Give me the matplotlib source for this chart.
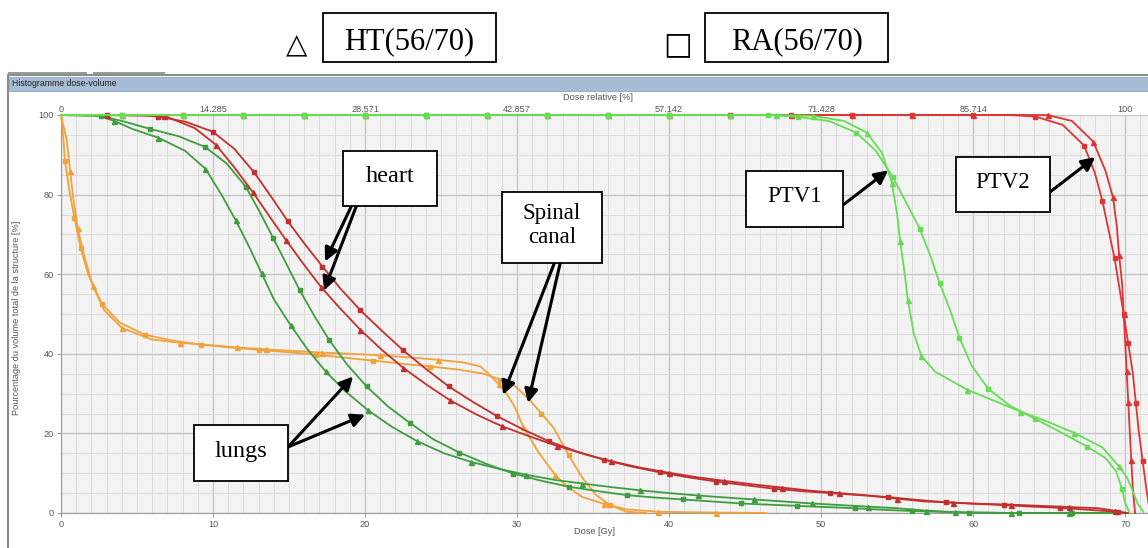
import matplotlib.pyplot as plt
from matplotlib.patches import Rectangle

W, H = 1148, 548

heart_ht_x = [0, 3, 6.8, 8.8, 10.2, 11.45, 12.6, 13.7, 14.8, 15.94, 17.1, 18.36, 19.7, 21.1, 22.5,
              24.06, 25.6, 27.35, 29, 30.86, 32.6, 34.4, 36.2, 38.1, 40, 41.8, 43.6, 45.5, 47.4,
              49.3, 51.2, 53.1, 55, 56.8, 58.7, 60.6, 62.5, 64.4, 66.3, 68.2, 69.3, 70.0]
heart_ht_y = [100, 100, 99.8, 96.7, 92.5, 86.6, 80.7, 74.6, 68.6, 62.6, 56.8, 51.4, 46, 41, 36.5,
              32.2, 28.3, 24.7, 21.8, 19.2, 16.9, 14.8, 13, 11.4, 10.1, 9, 8.1, 7.2, 6.4,
              5.6, 5, 4.4, 3.6, 2.9, 2.6, 2.3, 2.1, 1.8, 1.5, 1.2, 0.6, 0]
heart_ra_x = [0, 3, 5.5, 6.4, 8.2, 9.98, 11.4, 12.7, 13.8, 14.9, 16.05, 17.2, 18.4, 19.7, 21.1,
              22.5, 24, 25.5, 27.1, 28.7, 30.4, 32.1, 33.9, 35.7, 37.5, 39.4, 41.2, 43.1, 45,
              46.9, 48.7, 50.6, 52.5, 54.4, 56.3, 58.2, 60.1, 62, 63.9, 65.7, 67.6, 69.5, 70.2]
heart_ra_y = [100, 100, 99.9, 99.6, 98.3, 95.8, 91.5, 85.6, 79.6, 73.4, 67.5, 61.9, 56.3, 50.9, 45.8,
              40.9, 36.2, 31.8, 27.9, 24.3, 21, 18, 15.5, 13.4, 11.7, 10.2, 9, 7.9, 7,
              6.1, 5.5, 5, 4.5, 4, 3.3, 2.7, 2.3, 2, 1.6, 1.3, 0.8, 0.3, 0]

lungs_ht_x = [0, 2.5, 3.5, 4.69, 6.4, 8.16, 9.5, 10.57, 11.5, 12.4, 13.2, 14.0, 15.1, 16.2, 17.4,
              18.7, 20.2, 21.75, 23.4, 25.2, 27, 28.8, 30.6, 32.5, 34.3, 36.2, 38.1, 40, 41.9,
              43.7, 45.6, 47.5, 49.4, 51.2, 53.1, 55, 56.9, 58.8, 62.5, 66.3, 70]
lungs_ht_y = [100, 99.8, 98.5, 96.5, 94.3, 91, 86.5, 79.9, 73.5, 66.7, 60.2, 53.7, 47.2, 41.2, 35.6,
              30.6, 25.8, 21.7, 18.1, 15, 12.8, 11.1, 9.6, 8.3, 7.4, 6.5, 5.7, 5, 4.4,
              3.9, 3.4, 2.9, 2.4, 2, 1.6, 1.2, 0.6, 0.2, 0, 0, 0]
lungs_ra_x = [0, 2.6, 4.2, 5.86, 7.7, 9.47, 10.9, 12.15, 13.05, 13.97, 14.85, 15.7, 16.65, 17.65,
              18.8, 20.1, 21.5, 22.96, 24.5, 26.2, 28, 29.76, 31.6, 33.4, 35.3, 37.2, 39, 40.9,
              42.8, 44.7, 46.5, 48.4, 50.3, 52.2, 54.1, 56, 57.9, 59.7, 63, 66.5, 70]
lungs_ra_y = [100, 99.8, 98.3, 96.5, 94.7, 92, 87.8, 82, 75.8, 69, 62.4, 56, 49.6, 43.4,
              37.4, 31.8, 26.8, 22.6, 18.5, 15.2, 12.3, 9.9, 8.1, 6.6, 5.5, 4.5, 3.9, 3.4,
              2.9, 2.4, 2.1, 1.8, 1.5, 1.2, 0.8, 0.5, 0.3, 0.1, 0, 0, 0]

spinal_ht_x = [0, 0.15, 0.38, 0.6, 0.81, 1.1, 1.53, 2.1, 2.85, 4, 5.96, 7.8, 9.7, 11.6, 13.5, 15.4,
               17.2, 19.1, 21, 22.9, 24.8, 26.5, 27.6, 28.3, 28.8, 29.3, 29.8, 30.4, 31.4, 32.5,
               33.3, 34.3, 35.7, 37.2, 39.3, 43.1, 46.4]
spinal_ht_y = [100, 97.5, 93.7, 86, 79, 71.5, 64.6, 57, 50.9, 46.5, 43.6, 42.8, 42.2, 41.6, 41.1, 40.7,
               40.3, 40, 39.6, 39.1, 38.5, 37.8, 36.8, 34.3, 32.3, 30, 27, 21.7, 15.3, 9.6,
               6.6, 4, 2.3, 0.9, 0.3, 0.1, 0]
spinal_ra_x = [0, 0.12, 0.26, 0.55, 0.88, 1.3, 1.8, 2.7, 3.84, 5.5, 7.37, 9.2, 11.1, 13, 14.9, 16.8,
               18.7, 20.5, 22.4, 24.3, 26.2, 27.8, 28.9, 29.9, 30.8, 31.6, 32.4, 33.4, 34.3, 35.2,
               36.1, 37.2, 38.5]
spinal_ra_y = [100, 96, 88.5, 81, 74.2, 66.5, 59.8, 52.5, 47.9, 44.8, 43.3, 42.3, 41.6, 41, 40.4, 39.8,
               39, 38.3, 37.5, 36.8, 36, 35, 33.5, 31.8, 28.5, 25, 21.4, 14.5, 8.8, 4.5,
               2, 0.3, 0]

ptv1_ht_x = [0, 4, 8, 12, 16, 20, 24, 28, 32, 36, 40, 44, 47, 49.45, 51.5, 53, 54, 54.65, 55.0,
             55.2, 55.5, 55.7, 56.1, 56.6, 57.5, 59.6, 61.5, 63.1, 65, 66.6, 68.5, 69.6, 70.1,
             70.4, 70.8, 71.2]
ptv1_ht_y = [100, 100, 100, 100, 100, 100, 100, 100, 100, 100, 100, 100, 100, 99.8, 98.5, 95.6, 90.5,
             83, 75, 68.3, 60, 53.6, 45, 39.4, 35.5, 31, 28, 25.5, 22.8, 20.2, 16.5, 11.7, 9,
             6.5, 2.5, 0.3]
ptv1_ra_x = [0, 4, 8, 12, 16, 20, 24, 28, 32, 36, 40, 44, 46.5, 48.5, 50.5, 52.3, 53.6, 54.7, 55.6,
             56.5, 57.2, 57.8, 58.5, 59.1, 59.9, 61, 62.4, 64.1, 65.8, 67.5, 68.7, 69.4, 69.8,
             70.0, 70.3]
ptv1_ra_y = [100, 100, 100, 100, 100, 100, 100, 100, 100, 100, 100, 100, 100, 99.5, 98.5, 95.6, 91,
             84.5, 78, 71.3, 64.5, 57.7, 50.8, 44, 37, 31.2, 27, 23.6, 20.2, 16.7, 13.8, 10.5, 6,
             2.5, 0]

ptv2_ht_x = [0, 4, 8, 12, 16, 20, 24, 28, 32, 36, 40, 44, 48, 52, 56, 60, 63, 64.9, 66.5, 67.9,
             68.7, 69.2, 69.45, 69.6, 69.8, 69.9, 70.0, 70.1, 70.2, 70.3, 70.4, 70.5, 70.65]
ptv2_ht_y = [100, 100, 100, 100, 100, 100, 100, 100, 100, 100, 100, 100, 100, 100, 100, 100, 100,
             100, 98.5, 93.3, 86, 79.3, 72, 64.8, 57.5, 50, 42.8, 35.6, 28, 20.5, 13.3, 6.2, 0]
ptv2_ra_x = [0, 4, 8, 12, 16, 20, 24, 28, 32, 36, 40, 44, 48, 52, 56, 60, 62.5, 64.1, 65.9, 67.3,
             68.0, 68.5, 68.9, 69.3, 69.6, 69.9, 70.2, 70.5, 70.7, 70.9, 71.15, 71.4, 71.6, 71.8]
ptv2_ra_y = [100, 100, 100, 100, 100, 100, 100, 100, 100, 100, 100, 100, 100, 100, 100, 100, 100,
             99.6, 97.5, 92.3, 85.5, 78.4, 71.2, 64, 57, 50, 42.6, 35.2, 27.7, 20.3, 13, 5.8, 1, 0]

top_ticks = [0, 10, 20, 30, 40, 50, 60, 70]
top_labels = ['0', '14.285', '28.571', '42.857', '57.142', '71.428', '85.714', '100']

# structure -> colour, curves (HT, RA)
series = [
    ('#f2a23a', spinal_ht_x, spinal_ht_y, spinal_ra_x, spinal_ra_y),
    ('#3e9e3e', lungs_ht_x, lungs_ht_y, lungs_ra_x, lungs_ra_y),
    ('#c2302e', heart_ht_x, heart_ht_y, heart_ra_x, heart_ra_y),
    ('#e03434', ptv2_ht_x, ptv2_ht_y, ptv2_ra_x, ptv2_ra_y),
    ('#66dd55', ptv1_ht_x, ptv1_ht_y, ptv1_ra_x, ptv1_ra_y),
]


def fx(px):
    return px / W


def fy(py):
    return 1 - py / H


fig = plt.figure(figsize=(W / 100, H / 100), dpi=100)
fig.patch.set_facecolor('white')

# window frame of the TPS screenshot
fig.patches.append(Rectangle((fx(8), -0.01), 1.0, fy(75) + 0.01, transform=fig.transFigure,
                             fill=False, edgecolor='#8c8c8c', lw=1.5, zorder=0))
fig.patches.append(Rectangle((fx(9), fy(91)), 1.0, fy(77) - fy(91), transform=fig.transFigure,
                             facecolor='#a7bdd6', edgecolor='#8ea6c2', lw=0.6, zorder=0))
for x0, x1 in [(8, 87), (93, 165)]:
    fig.patches.append(Rectangle((fx(x0), fy(74)), fx(x1) - fx(x0), fy(72) - fy(74),
                                 transform=fig.transFigure, facecolor='#9a9a9a', lw=0, zorder=0))
fig.text(fx(12), fy(84), 'Histogramme dose-volume', fontsize=6.3, family='Liberation Sans',
         color='#222222', va='center')

ax = fig.add_axes([fx(61), fy(513), fx(1148) - fx(61), (513 - 115) / H])
ax.set_facecolor('#f3f3f3')
ax.set_xlim(0, 71.5)
ax.set_ylim(0, 100)
ax.set_xticks(range(0, 71, 10))
ax.set_xticks(range(0, 72), minor=True)
ax.set_yticks(range(0, 101, 20))
ax.set_yticks(range(0, 101, 5), minor=True)
ax.grid(which='major', color='#c6c6c6', lw=1.0)
ax.grid(which='minor', color='#dcdcdc', lw=0.7)
ax.set_axisbelow(True)
for s in ['top', 'right']:
    ax.spines[s].set_visible(False)
for s in ['left', 'bottom']:
    ax.spines[s].set_color('#9a9a9a')
ax.tick_params(which='minor', length=0)
ax.tick_params(which='major', length=3, color='#9a9a9a', labelsize=6.6, labelcolor='#555555', pad=2)
for lab in ax.get_xticklabels() + ax.get_yticklabels():
    lab.set_family('Liberation Sans')

sec = ax.secondary_xaxis('top')
sec.set_xticks(top_ticks, labels=top_labels)
sec.tick_params(length=0, labelsize=6.6, labelcolor='#555555', pad=1)
sec.spines['top'].set_visible(False)
for lab in sec.get_xticklabels():
    lab.set_family('Liberation Sans')

fig.text(fx(598), fy(97), 'Dose relative [%]', fontsize=6.6, family='Liberation Sans',
         color='#555555', ha='center', va='center')
fig.text(fx(595), fy(531), 'Dose [Gy]', fontsize=6.6, family='Liberation Sans',
         color='#555555', ha='center', va='center')
fig.text(fx(17), fy(318), 'Pourcentage du volume total de la structure [%]', fontsize=6.6,
         family='Liberation Sans', color='#555555', ha='center', va='center', rotation=90)

for i, (col, hx, hy, rx, ry) in enumerate(series):
    ax.plot(rx, ry, color=col, lw=1.3, marker='s', ms=2.7, markevery=(0.03 + 0.007 * i, 0.049),
            zorder=3 + i, clip_on=False)
    ax.plot(hx, hy, color=col, lw=1.3, marker='^', ms=3.6, markevery=(0.04 + 0.007 * i, 0.049),
            zorder=3 + i, clip_on=False)

# label boxes (pixel rectangles of the screenshot), text centre offset in px
serif = 'Liberation Serif'
boxes = [
    ((343, 151, 437, 206), 'heart', 17.5, -2),
    ((502, 192, 602, 263), 'Spinal\ncanal', 16.5, -2),
    ((194, 425, 288, 481), 'lungs', 17.5, -2),
    ((746, 171, 843, 227), 'PTV1', 16.5, -2),
    ((956, 157, 1050, 212), 'PTV2', 16.5, -2),
    ((323, 13, 496, 62), 'HT(56/70)', 22, 4),
    ((705, 13, 888, 62), 'RA(56/70)', 22, 4),
]
for (x0, y0, x1, y1), txt, size, dy in boxes:
    fig.patches.append(Rectangle((fx(x0), fy(y1)), fx(x1) - fx(x0), fy(y0) - fy(y1),
                                 transform=fig.transFigure, facecolor='white',
                                 edgecolor='black', lw=1.3, zorder=5))
    fig.text(fx((x0 + x1) / 2), fy((y0 + y1) / 2 + dy), txt, fontsize=size, family=serif,
             ha='center', va='center', linespacing=1.2, zorder=6)

fig.text(fx(297), fy(45), '\u25b3', fontsize=20, family='DejaVu Sans', ha='center', va='center')
fig.text(fx(678), fy(45), '\u25a1', fontsize=22, family='DejaVu Sans', ha='center', va='center')

# arrows: tip on the curve (data), tail on the box edge (screenshot pixels)
arrows = [
    ((17.37, 63.2), (351, 207)),
    ((17.30, 55.9), (356, 207)),
    ((29.08, 29.7), (554, 264)),
    ((30.72, 27.7), (560, 264)),
    ((19.21, 34.3), (288, 447)),
    ((20.0, 24.7), (288, 447)),
    ((54.41, 86.1), (843, 205)),
    ((68.03, 89.4), (1050, 192)),
]
for tip, (tx, ty) in arrows:
    ax.annotate('', xy=tip, xycoords='data', xytext=(fx(tx), fy(ty)), textcoords='figure fraction',
                arrowprops=dict(arrowstyle='-|>', color='black', lw=2.2, mutation_scale=20,
                                shrinkA=0, shrinkB=0), zorder=10)

fig.savefig('out.png', dpi=100, facecolor='white')
